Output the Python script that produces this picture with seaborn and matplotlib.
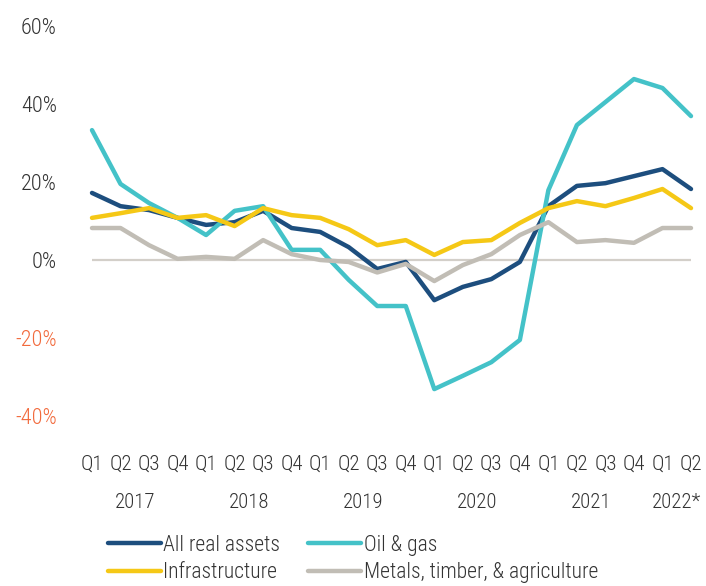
import pandas as pd
import matplotlib.pyplot as plt
import seaborn as sns
from matplotlib import font_manager

quarters = ["Q1", "Q2", "Q3", "Q4"] * 5 + ["Q1", "Q2"]
years = ["2017", "2018", "2019", "2020", "2021", "2022*"]

all_real_assets = [17.2, 13.8, 12.8, 10.8, 9.0, 9.7, 12.6, 8.2, 7.2, 3.3, -2.3,
                   -0.5, -10.3, -6.9, -4.9, -0.5, 13.8, 19.0, 19.7, 21.5, 23.3, 18.2]
oil_gas = [33.3, 19.5, 14.6, 10.8, 6.4, 12.6, 13.8, 2.6, 2.6, -5.1, -11.8,
           -11.8, -33.1, -29.7, -26.2, -20.5, 17.9, 34.6, 40.5, 46.4, 44.1, 36.9]
infrastructure = [10.8, 12.0, 13.3, 10.8, 11.5, 8.7, 13.3, 11.5, 10.8, 7.9, 3.8,
                  5.1, 1.3, 4.6, 5.1, 9.5, 13.3, 15.1, 13.8, 15.9, 18.2, 13.3]
metals = [8.2, 8.2, 3.8, 0.3, 0.8, 0.3, 5.1, 1.5, 0.0, -0.5, -3.2,
          -1.0, -5.4, -1.3, 1.5, 6.4, 9.7, 4.6, 5.1, 4.4, 8.2, 8.2]

series = {
    "All real assets": all_real_assets,
    "Oil & gas": oil_gas,
    "Infrastructure": infrastructure,
    "Metals, timber, & agriculture": metals,
}
colors = {
    "All real assets": "#1d4e7e",
    "Oil & gas": "#44c2c8",
    "Infrastructure": "#f5c816",
    "Metals, timber, & agriculture": "#c1bdb5",
}

rows = []
for name, vals in series.items():
    for i, v in enumerate(vals):
        rows.append({"idx": i, "value": v, "series": name})
df = pd.DataFrame(rows)

sns.set_style("white")

# pick a narrow font if one is around
fonts = font_manager.fontManager.ttflist
names = {f.name for f in fonts}
stretch = "normal"
if "Roboto Condensed" in names:
    font = "Roboto Condensed"
elif "Liberation Sans Narrow" in names:
    font = "Liberation Sans Narrow"
elif any(f.name == "DejaVu Sans" and f.stretch == "condensed" for f in fonts):
    font = "DejaVu Sans"
    stretch = "condensed"
else:
    font = "Roboto"
plt.rcParams["font.family"] = [font, "DejaVu Sans"]
plt.rcParams["font.stretch"] = stretch
plt.rcParams["font.weight"] = "light"

fig = plt.figure(figsize=(7.06, 5.86), dpi=100)
ax = fig.add_axes([92 / 706, 1 - 455 / 586, (691 - 92) / 706, (455 - 26) / 586])

ax.axhline(0, color="#d3cfc9", lw=1.6, zorder=0)
sns.lineplot(data=df, x="idx", y="value", hue="series", hue_order=list(series),
             palette=colors, lw=3.2, ax=ax, legend=False, clip_on=False)

ax.set_xlim(0, 21)
ax.set_ylim(-50, 60)
yticks = [-40, -20, 0, 20, 40, 60]
ax.set_yticks(yticks)
ax.set_yticklabels([f"{t}%" for t in yticks])
for lbl, t in zip(ax.get_yticklabels(), yticks):
    lbl.set_color("#f26a3c" if t < 0 else "#333333")
ax.tick_params(axis="y", length=0, pad=35 * 0.72, labelsize=16)
ax.set_xticks(range(22))
ax.set_xticklabels(quarters)
ax.tick_params(axis="x", length=0, pad=0, labelsize=15, labelcolor="#333333")
ax.set_xlabel("")
ax.set_ylabel("")
for s in ax.spines.values():
    s.set_visible(False)

year_pos = [1.5, 5.5, 9.5, 13.5, 17.5, 20.5]
for x, y in zip(year_pos, years):
    ax.text(x, -62.3, y, ha="center", va="center", fontsize=15, color="#333333")

handles = [plt.Line2D([], [], color=colors[n], lw=3.2) for n in series]
order = [0, 2, 1, 3]
leg = fig.legend([handles[i] for i in order], [list(series)[i] for i in order],
                 ncol=2, loc="center left", bbox_to_anchor=(108 / 706, 1 - 559 / 586),
                 frameon=False, fontsize=15.5, handlelength=2.45, handletextpad=0.12,
                 columnspacing=1.3, labelspacing=0.32, borderaxespad=0, borderpad=0)
for t in leg.get_texts():
    t.set_color("#333333")

fig.savefig("out.png", dpi=100)
